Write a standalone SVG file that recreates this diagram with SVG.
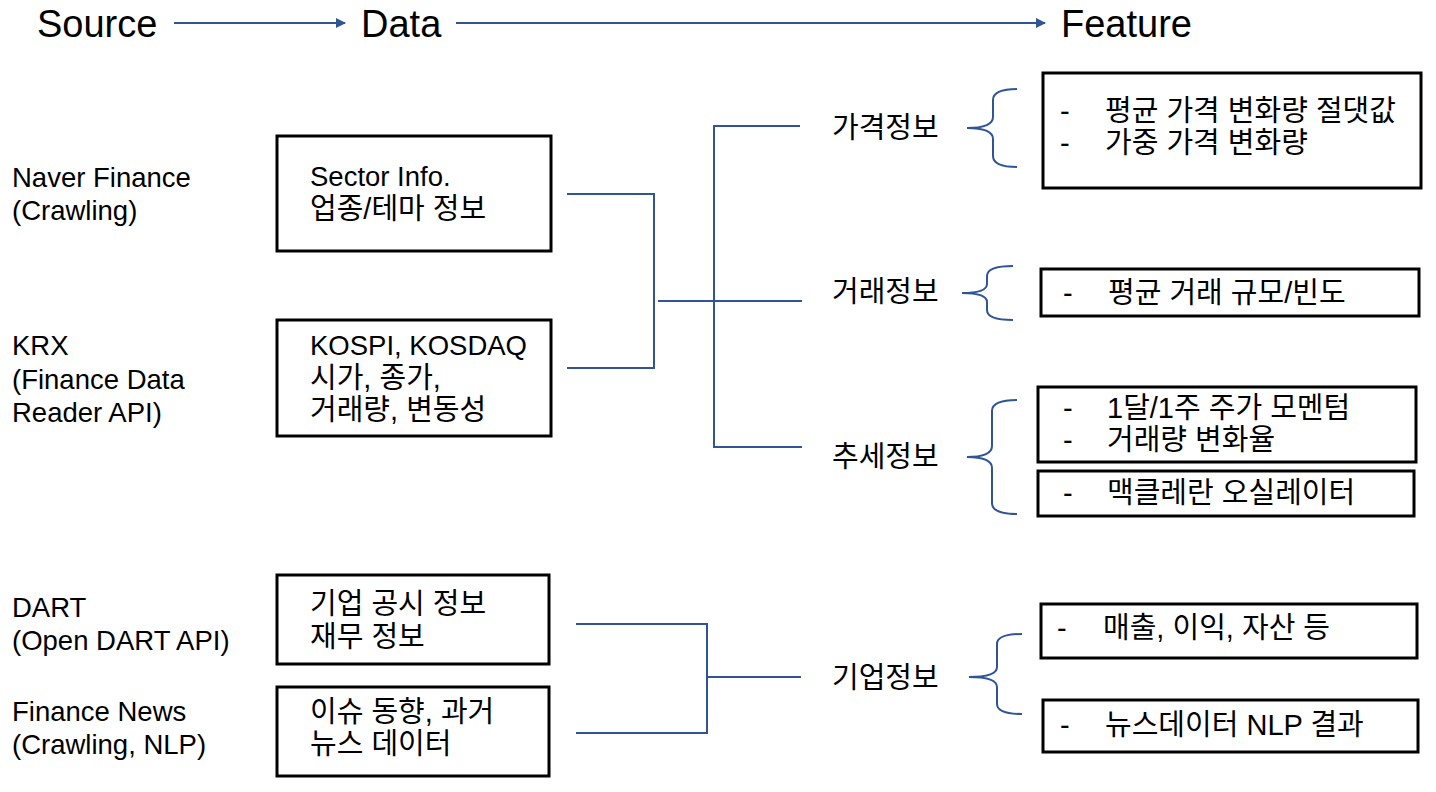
<svg xmlns="http://www.w3.org/2000/svg" width="1436" height="792" viewBox="0 0 1436 792">
<style>
text{font-family:"Liberation Sans","Noto Sans CJK KR",sans-serif;fill:#000}
.t{font-size:38px}
.s{font-size:27.5px}
.k{font-size:29px}
.box{fill:#fff;stroke:#000;stroke-width:3}
.ln{fill:none;stroke:#2F5597;stroke-width:2}
</style>
<defs>
<marker id="ah" viewBox="0 0 10 10" refX="9" refY="5" markerWidth="5" markerHeight="5" orient="auto" markerUnits="strokeWidth">
<path d="M0,0 L10,5 L0,10 z" fill="#2F5597"/>
</marker>
</defs>
<g id="headers">
<text class="t" x="37" y="37">Source</text>
<text class="t" x="361" y="37">Data</text>
<text class="t" x="1061" y="37">Feature</text>
</g>
<g id="connectors">
<line class="ln" x1="174" y1="23" x2="345" y2="23" marker-end="url(#ah)"/>
<line class="ln" x1="456" y1="23" x2="1045" y2="23" marker-end="url(#ah)"/>
<path class="ln" d="M567,194 H654 V368 H567"/>
<path class="ln" d="M658,301 H802"/>
<path class="ln" d="M800,126 H714 V447 H802"/>
<path class="ln" d="M576,624 H707 V733 H576"/>
<path class="ln" d="M707,677 H801"/>
<path class="ln" d="M1017,89 Q993,89 993,100 V117 Q993,128 967,128 Q993,128 993,139 V156 Q993,167 1017,167"/>
<path class="ln" d="M1013,266 Q987,266 987,276 V284 Q987,293 962,293 Q987,293 987,302 V310 Q987,320 1013,320"/>
<path class="ln" d="M1017,400 Q992,400 992,411 V446 Q992,457 967,457 Q992,457 992,468 V503 Q992,514 1017,514"/>
<path class="ln" d="M1022,634 Q997,634 997,644 V667 Q997,677 969,677 Q997,677 997,687 V704 Q997,714 1022,714"/>
</g>
<g id="src-naver">
<text class="s" x="12" y="187">Naver Finance</text>
<text class="s" x="12" y="220">(Crawling)</text>
</g>
<g id="src-krx">
<text class="s" x="12" y="355">KRX</text>
<text class="s" x="12" y="389">(Finance Data</text>
<text class="s" x="12" y="422">Reader API)</text>
</g>
<g id="src-dart">
<text class="s" x="12" y="617">DART</text>
<text class="s" x="12" y="650">(Open DART API)</text>
</g>
<g id="src-news">
<text class="s" x="12" y="721">Finance News</text>
<text class="s" x="12" y="754">(Crawling, NLP)</text>
</g>
<g id="data-sector">
<rect class="box" x="277" y="136" width="274" height="115"/>
<text class="s" x="310" y="186">Sector Info.</text>
<text class="k" x="310" y="219">업종/테마 정보</text>
</g>
<g id="data-krx">
<rect class="box" x="277" y="320" width="274" height="116"/>
<text class="s" x="310" y="355">KOSPI, KOSDAQ</text>
<text class="k" x="310" y="388">시가, 종가,</text>
<text class="k" x="310" y="420">거래량, 변동성</text>
</g>
<g id="data-dart">
<rect class="box" x="277" y="575" width="272" height="89"/>
<text class="k" x="310" y="614">기업 공시 정보</text>
<text class="k" x="310" y="647">재무 정보</text>
</g>
<g id="data-news">
<rect class="box" x="277" y="687" width="272" height="89"/>
<text class="k" x="310" y="722">이슈 동향, 과거</text>
<text class="k" x="310" y="754">뉴스 데이터</text>
</g>
<g id="cat-price"><text class="k" x="832" y="138">가격정보</text></g>
<g id="cat-trade"><text class="k" x="832" y="302">거래정보</text></g>
<g id="cat-trend"><text class="k" x="832" y="467">추세정보</text></g>
<g id="cat-corp"><text class="k" x="832" y="688">기업정보</text></g>
<g id="feat-price">
<rect class="box" x="1043" y="73" width="378" height="115"/>
<text class="k" x="1060" y="121">-</text><text class="k" x="1105" y="121">평균 가격 변화량 절댓값</text>
<text class="k" x="1060" y="153">-</text><text class="k" x="1105" y="153">가중 가격 변화량</text>
</g>
<g id="feat-trade">
<rect class="box" x="1041" y="269" width="378" height="47"/>
<text class="k" x="1063" y="303">-</text><text class="k" x="1108" y="303">평균 거래 규모/빈도</text>
</g>
<g id="feat-trend">
<rect class="box" x="1038" y="387" width="378" height="75"/>
<text class="k" x="1063" y="418">-</text><text class="k" x="1107" y="418">1달/1주 주가 모멘텀</text>
<text class="k" x="1063" y="450">-</text><text class="k" x="1107" y="450">거래량 변화율</text>
</g>
<g id="feat-mcclellan">
<rect class="box" x="1038" y="471" width="376" height="45"/>
<text class="k" x="1063" y="503">-</text><text class="k" x="1107" y="503">맥클레란 오실레이터</text>
</g>
<g id="feat-fin">
<rect class="box" x="1041" y="604" width="376" height="54"/>
<text class="k" x="1057" y="638">-</text><text class="k" x="1103" y="638">매출, 이익, 자산 등</text>
</g>
<g id="feat-nlp">
<rect class="box" x="1043" y="700" width="375" height="52"/>
<text class="k" x="1060" y="735">-</text><text class="k" x="1105" y="735">뉴스데이터 NLP 결과</text>
</g>
</svg>
